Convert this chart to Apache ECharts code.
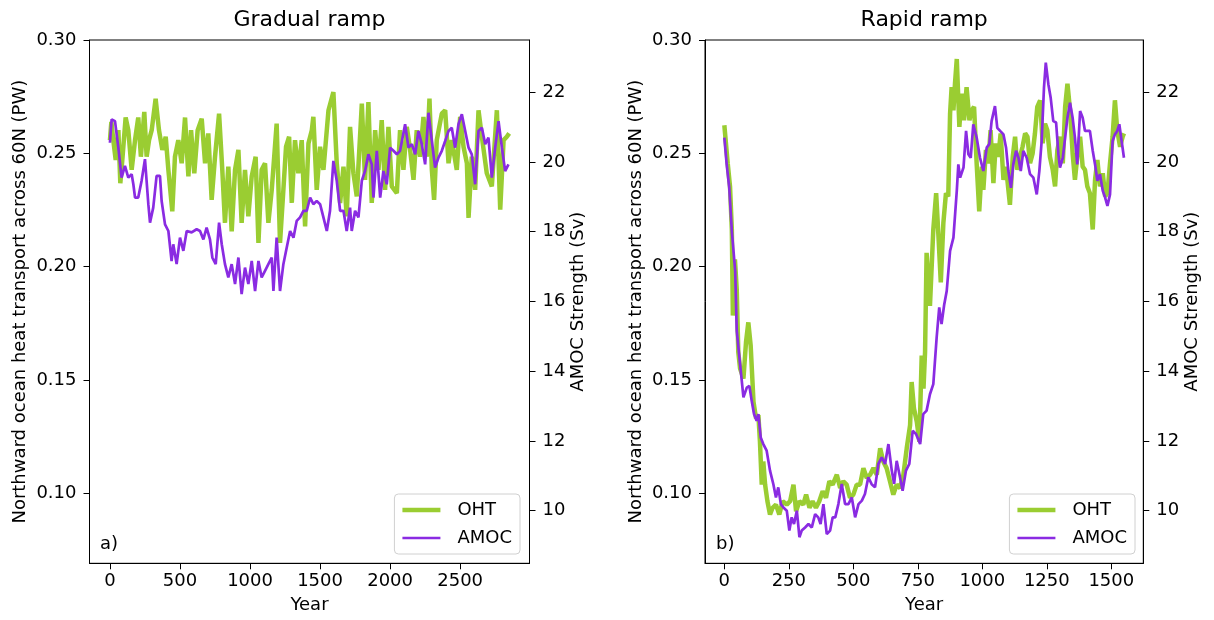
<!DOCTYPE html>
<html>
<head>
<meta charset="utf-8">
<script src="https://cdn.jsdelivr.net/npm/echarts@6/dist/echarts.min.js"></script>
<style>
html,body{margin:0;padding:0;background:#fff;}
#chart{width:1214px;height:620px;}
</style>
</head>
<body>
<div id="chart"></div>
<script>
// ---- tick labels ----
const gradualXTicks = [0, 500, 1000, 1500, 2000, 2500];
const rapidXTicks = [0, 250, 500, 750, 1000, 1250, 1500];
const ohtTicks = [0.10, 0.15, 0.20, 0.25, 0.30];
const amocTicks = [10, 12, 14, 16, 18, 20, 22];

// ---- Gradual ramp: OHT (PW) ----
const gradualOhtYears = [0,10,24,41,60,74,90,112,131,155,179,202,221,245,262,279,298,326,350,374,398,417,445,464,488,512,536,560,579,602,626,655,679,702,726,750,779,802,821,845,869,893,917,940,964,988,1012,1040,1060,1083,1107,1131,1155,1190,1214,1238,1257,1279,1298,1321,1345,1369,1393,1417,1441,1452,1476,1500,1524,1560,1595,1619,1643,1667,1690,1714,1738,1762,1798,1821,1845,1869,1893,1917,1940,1964,1988,2012,2048,2071,2095,2119,2143,2167,2190,2214,2238,2262,2281,2298,2314,2333,2369,2393,2417,2440,2476,2500,2524,2548,2560,2583,2607,2631,2655,2690,2726,2762,2786,2810,2833,2850];
const gradualOht = [0.2558,0.2639,0.2558,0.2471,0.2602,0.2368,0.2485,0.2658,0.2602,0.2427,0.2558,0.2658,0.2485,0.2683,0.2485,0.2558,0.2602,0.2741,0.2602,0.2515,0.2573,0.2427,0.2244,0.2485,0.2558,0.2456,0.2658,0.2398,0.2602,0.2412,0.2602,0.2653,0.2456,0.2588,0.2295,0.2485,0.2675,0.2427,0.2193,0.2441,0.2156,0.2427,0.2515,0.2193,0.2427,0.2222,0.2398,0.2485,0.2105,0.2427,0.2456,0.2193,0.2339,0.2631,0.2105,0.2339,0.2529,0.2573,0.2281,0.2558,0.2412,0.2558,0.2178,0.2544,0.2602,0.2661,0.2339,0.2529,0.2427,0.2690,0.2770,0.2456,0.2281,0.2441,0.2222,0.2617,0.2412,0.2310,0.2719,0.2383,0.2726,0.2281,0.2602,0.2427,0.2646,0.2339,0.2617,0.2354,0.2324,0.2602,0.2427,0.2617,0.2515,0.2383,0.2602,0.2485,0.2661,0.2485,0.2741,0.2427,0.2295,0.2558,0.2675,0.2690,0.2456,0.2558,0.2427,0.2661,0.2529,0.2456,0.2215,0.2485,0.2339,0.2690,0.2573,0.2412,0.2354,0.2690,0.2251,0.2558,0.2573,0.2588];

// ---- Gradual ramp: AMOC (Sv) ----
const gradualAmocYears = [0,12,36,60,83,107,131,155,167,179,202,226,250,274,286,309,333,357,369,393,417,440,452,476,500,524,548,583,619,643,667,690,714,731,755,779,798,821,845,869,893,917,940,964,988,1012,1036,1060,1083,1107,1131,1155,1167,1190,1214,1238,1262,1286,1310,1333,1357,1381,1405,1429,1452,1476,1500,1524,1548,1571,1595,1619,1643,1667,1690,1714,1726,1750,1774,1798,1821,1845,1869,1881,1905,1929,1952,1976,2000,2024,2048,2071,2107,2131,2155,2179,2202,2226,2250,2274,2298,2321,2345,2369,2393,2417,2440,2464,2488,2512,2536,2560,2583,2607,2631,2655,2679,2702,2726,2750,2774,2798,2821,2845];
const gradualAmoc = [20.55,21.22,21.17,20.41,19.55,19.89,19.55,19.65,19.36,18.98,18.98,19.46,20.08,18.79,18.26,18.69,19.60,19.60,18.88,18.21,18.02,17.16,17.64,17.07,17.83,17.45,18.02,17.98,18.07,18.02,17.78,18.12,17.78,17.26,17.07,18.26,17.64,17.07,16.69,17.07,16.50,17.26,16.21,16.97,16.50,17.16,16.30,17.16,16.69,16.88,17.07,17.26,16.30,17.83,16.30,17.07,17.55,18.02,17.83,18.31,18.41,18.60,18.60,18.98,18.79,18.88,18.79,18.41,18.02,18.60,20.03,19.46,18.60,18.60,18.02,18.69,18.02,18.60,18.41,19.46,19.74,20.22,19.93,18.98,20.32,18.98,19.74,19.36,20.41,20.32,20.22,20.32,21.08,20.41,20.51,20.22,20.89,20.51,19.93,21.41,20.60,19.84,20.12,20.32,20.60,20.89,20.98,20.41,21.08,21.37,20.89,20.41,20.22,19.36,20.89,20.98,20.51,20.70,19.55,20.41,21.17,20.41,19.74,19.93];

// ---- Rapid ramp: OHT (PW) ----
const rapidOhtYears = [0,7,13,22,29,33,41,48,54,61,74,84,93,102,113,123,132,138,145,151,158,167,177,187,200,213,226,242,255,268,278,291,306,317,330,342,355,368,381,394,407,420,436,449,461,474,487,500,513,526,539,552,565,578,591,604,616,629,642,655,668,681,694,707,720,726,735,746,756,765,772,778,784,797,810,821,830,839,849,859,868,875,881,888,894,901,911,920,929,939,950,959,968,978,988,998,1004,1014,1023,1032,1043,1052,1062,1071,1082,1092,1101,1107,1118,1127,1136,1146,1156,1166,1175,1185,1195,1204,1213,1224,1234,1243,1252,1262,1273,1282,1291,1301,1312,1321,1330,1340,1350,1359,1368,1379,1389,1398,1407,1417,1428,1437,1446,1456,1467,1476,1485,1495,1505,1514,1523,1534,1544,1549];
const rapidOht = [0.2624,0.2617,0.2456,0.2354,0.2164,0.1784,0.2032,0.1900,0.1623,0.1550,0.1506,0.1667,0.1754,0.1652,0.1403,0.1330,0.1345,0.1228,0.1038,0.1140,0.1038,0.0965,0.0906,0.0936,0.0950,0.0906,0.0965,0.0950,0.0965,0.1038,0.0921,0.0965,0.0950,0.0994,0.0936,0.0965,0.0936,0.0965,0.1009,0.0980,0.1053,0.1038,0.1082,0.1023,0.1053,0.1038,0.0980,0.0994,0.1038,0.1038,0.1111,0.1067,0.1082,0.1111,0.1082,0.1199,0.1140,0.1111,0.1053,0.0994,0.1038,0.1023,0.1082,0.1199,0.1301,0.1491,0.1374,0.1316,0.1228,0.1608,0.1462,0.1623,0.2061,0.1827,0.2164,0.2324,0.2134,0.1930,0.2193,0.2324,0.2310,0.2675,0.2792,0.2690,0.2807,0.2916,0.2617,0.2763,0.2646,0.2792,0.2646,0.2690,0.2705,0.2456,0.2244,0.2441,0.2339,0.2515,0.2456,0.2602,0.2368,0.2544,0.2485,0.2588,0.2383,0.2441,0.2339,0.2273,0.2485,0.2573,0.2427,0.2485,0.2529,0.2588,0.2573,0.2456,0.2500,0.2588,0.2705,0.2734,0.2544,0.2631,0.2602,0.2485,0.2427,0.2354,0.2515,0.2573,0.2456,0.2705,0.2807,0.2690,0.2500,0.2383,0.2485,0.2573,0.2441,0.2427,0.2354,0.2324,0.2164,0.2383,0.2471,0.2354,0.2412,0.2310,0.2324,0.2456,0.2573,0.2734,0.2602,0.2529,0.2573,0.2588];

// ---- Rapid ramp: AMOC (Sv) ----
const rapidAmocYears = [0,9,19,29,42,48,61,74,87,97,106,115,125,132,141,151,164,177,190,200,209,219,229,242,252,261,270,281,291,300,313,326,339,352,364,373,384,397,410,420,430,442,455,468,481,494,507,520,533,545,558,571,584,597,610,623,636,649,658,668,681,691,704,717,730,743,759,771,784,797,810,823,833,842,852,862,875,888,901,907,914,927,937,946,955,965,978,991,1004,1017,1027,1036,1049,1058,1069,1082,1092,1101,1111,1120,1131,1140,1149,1159,1172,1185,1198,1211,1221,1230,1239,1246,1256,1265,1275,1286,1295,1301,1312,1321,1330,1340,1350,1359,1368,1379,1389,1398,1407,1417,1428,1437,1446,1456,1467,1476,1485,1495,1505,1514,1523,1531,1540,1549];
const rapidAmoc = [20.70,19.93,19.26,18.02,16.88,15.16,14.20,13.25,13.53,13.58,13.15,12.77,12.58,12.77,12.10,11.91,11.72,11.15,10.76,10.38,10.67,10.19,10.09,10.00,9.43,9.81,9.62,10.00,9.24,9.43,9.52,9.62,9.52,9.90,9.81,9.62,10.19,9.33,9.43,9.81,9.81,10.19,10.77,10.19,10.19,10.38,9.81,10.19,10.29,10.48,10.96,10.76,10.67,11.34,11.53,11.34,11.91,11.15,10.77,11.43,10.96,10.57,11.15,11.34,12.29,12.20,11.91,12.77,12.87,13.34,13.63,14.97,15.83,15.35,15.90,16.30,17.45,17.83,19.17,19.93,19.55,19.84,20.89,20.22,20.12,21.08,20.70,20.12,19.74,20.41,20.51,21.17,21.60,20.98,20.89,20.79,20.41,19.74,19.26,19.93,20.32,20.12,19.74,20.32,20.12,19.65,19.55,19.07,19.74,20.60,22.13,22.85,22.23,21.84,21.17,21.13,20.22,19.84,20.12,20.70,21.27,21.70,21.27,20.70,19.93,21.46,21.27,20.89,20.89,20.89,20.32,19.93,19.46,19.65,19.17,18.98,18.74,19.07,20.60,20.79,20.89,21.08,20.60,20.12];

function zip(xs, ys) { return xs.map((x, i) => [x, ys[i]]); }

const FONT = 'DejaVu Sans';
const FS = 18;
const GREEN = '#9ACD32';
const PURPLE = '#8A2BE2';

const chart = echarts.init(document.getElementById('chart'), null, {renderer: 'canvas'});

function xAxisFor(gridIndex, min, max, ticks) {
  return {
    type: 'value', gridIndex, min, max,
    name: 'Year', nameLocation: 'middle', nameGap: 33,
    nameTextStyle: {fontFamily: FONT, fontSize: FS, color: '#000'},
    axisLine: {show: true, onZero: false, lineStyle: {color: '#000', width: 1}},
    axisTick: {show: true, length: 6, lineStyle: {color: '#000', width: 1}, customValues: ticks},
    axisLabel: {fontFamily: FONT, fontSize: FS, color: '#000', margin: 9, customValues: ticks, formatter: v => String(v)},
    splitLine: {show: false}
  };
}
function yAxisFor(gridIndex, position, min, max, ticks, name, gap, fmt) {
  return {
    type: 'value', gridIndex, position, min, max,
    name, nameLocation: 'middle', nameGap: gap, nameRotate: 90,
    nameTextStyle: {fontFamily: FONT, fontSize: FS, color: '#000'},
    axisLine: {show: true, onZero: false, lineStyle: {color: '#000', width: 1}},
    axisTick: {show: true, length: 6, lineStyle: {color: '#000', width: 1}, customValues: ticks},
    axisLabel: {fontFamily: FONT, fontSize: FS, color: '#000', margin: 13, customValues: ticks, formatter: fmt},
    splitLine: {show: false}
  };
}
const ohtFmt = v => v.toFixed(2);
const amocFmt = v => String(Math.round(v));

function legendFor(rightPx) {
  return {
    orient: 'vertical', right: rightPx, bottom: 66,
    backgroundColor: '#fff', borderColor: '#d0d0d0', borderWidth: 1, borderRadius: 4,
    padding: [6, 8, 6, 8], itemGap: 8, itemWidth: 38, itemHeight: 14,
    textStyle: {fontFamily: FONT, fontSize: FS, color: '#000', lineHeight: 20, padding: [0, 0, 0, 12]},
    data: [
      {name: 'OHT', icon: 'path://M0,0h38v4.5h-38z'},
      {name: 'AMOC', icon: 'path://M0,0h38v2.7h-38z'}
    ]
  };
}

const option = {
  animation: false,
  backgroundColor: '#fff',
  title: [
    {text: 'Gradual ramp', left: 309.4, top: 9, textAlign: 'center', padding: 0,
     textStyle: {fontFamily: FONT, fontSize: 22, fontWeight: 'normal', color: '#000'}},
    {text: 'Rapid ramp', left: 924.2, top: 9, textAlign: 'center', padding: 0,
     textStyle: {fontFamily: FONT, fontSize: 22, fontWeight: 'normal', color: '#000'}}
  ],
  grid: [
    {left: 89.5, top: 40, width: 440, height: 523.3, show: true, borderColor: '#000', borderWidth: 1, backgroundColor: 'transparent'},
    {left: 705, top: 40, width: 438.3, height: 523.3, show: true, borderColor: '#000', borderWidth: 1, backgroundColor: 'transparent'}
  ],
  xAxis: [
    xAxisFor(0, -146, 2995, gradualXTicks),
    xAxisFor(1, -75, 1624, rapidXTicks)
  ],
  yAxis: [
    yAxisFor(0, 'left', 0.0691, 0.30, ohtTicks, 'Northward ocean heat transport across 60N (PW)', 60, ohtFmt),
    yAxisFor(0, 'right', 8.492, 23.497, amocTicks, 'AMOC Strength (Sv)', 40, amocFmt),
    yAxisFor(1, 'left', 0.0691, 0.30, ohtTicks, 'Northward ocean heat transport across 60N (PW)', 60, ohtFmt),
    yAxisFor(1, 'right', 8.492, 23.497, amocTicks, 'AMOC Strength (Sv)', 40, amocFmt)
  ],
  legend: [legendFor(694), legendFor(1214 - 1135)],
  graphic: [
    {type: 'text', left: 100, top: 535, style: {text: 'a)', font: FS + 'px "' + FONT + '"', fill: '#000'}},
    {type: 'text', left: 716, top: 535, style: {text: 'b)', font: FS + 'px "' + FONT + '"', fill: '#000'}}
  ],
  series: [
    {name: 'OHT', type: 'line', xAxisIndex: 0, yAxisIndex: 0, data: zip(gradualOhtYears, gradualOht),
     showSymbol: false, symbol: 'none', lineStyle: {color: GREEN, width: 4.5}, itemStyle: {color: GREEN}, z: 2},
    {name: 'AMOC', type: 'line', xAxisIndex: 0, yAxisIndex: 1, data: zip(gradualAmocYears, gradualAmoc),
     showSymbol: false, symbol: 'none', lineStyle: {color: PURPLE, width: 2.7}, itemStyle: {color: PURPLE}, z: 3},
    {name: 'OHT', type: 'line', xAxisIndex: 1, yAxisIndex: 2, data: zip(rapidOhtYears, rapidOht),
     showSymbol: false, symbol: 'none', lineStyle: {color: GREEN, width: 4.5}, itemStyle: {color: GREEN}, z: 2},
    {name: 'AMOC', type: 'line', xAxisIndex: 1, yAxisIndex: 3, data: zip(rapidAmocYears, rapidAmoc),
     showSymbol: false, symbol: 'none', lineStyle: {color: PURPLE, width: 2.7}, itemStyle: {color: PURPLE}, z: 3}
  ]
};
chart.setOption(option);
</script>
</body>
</html>
